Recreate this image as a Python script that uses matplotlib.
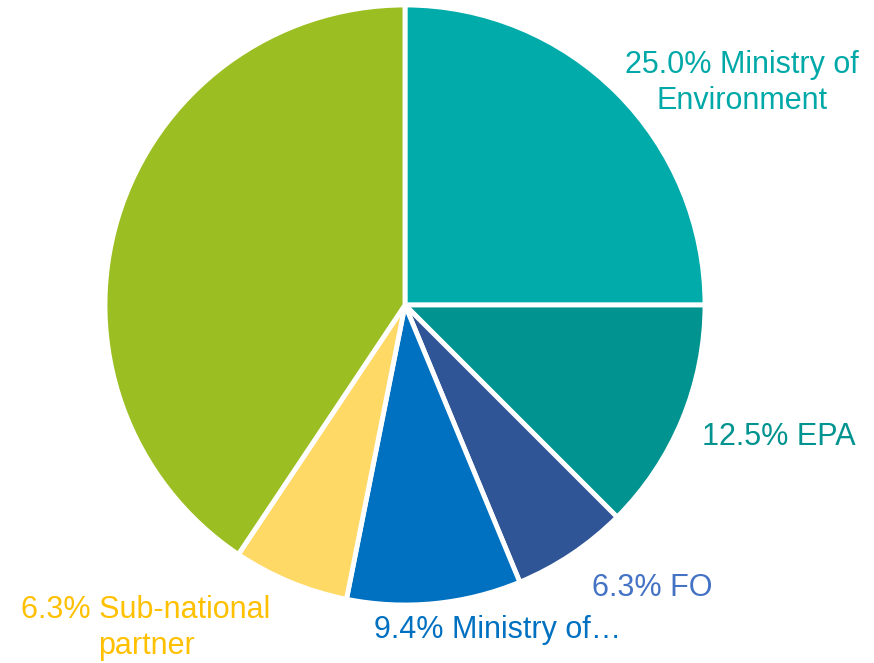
import matplotlib.pyplot as plt

# slice counts (out of 32), clockwise from 12 o'clock
labels = ["Ministry of\nEnvironment", "EPA", "FO", "Ministry of…", "Sub-national\npartner", "Other"]
values = [8, 4, 2, 3, 2, 13]
pcts = ["25.0%", "12.5%", "6.3%", "9.4%", "6.3%", ""]
colors = ["#00ABAA", "#00938F", "#2F5597", "#0070C0", "#FFD966", "#9BBF22"]
text_colors = ["#00A9A8", "#00938F", "#4472C4", "#0070C0", "#FFC000", None]

fig = plt.figure(figsize=(8.74, 6.63), dpi=100)
ax = fig.add_axes([0, 0, 1, 1])

# pie centre at (405, 305) px, radius 300 px
ax.pie(values, colors=colors, startangle=90, counterclock=False, radius=1,
       wedgeprops=dict(edgecolor="white", linewidth=3.5))
ax.set_xlim(-405 / 300, (874 - 405) / 300)
ax.set_ylim(-(663 - 305) / 300, 305 / 300)
ax.set_aspect("equal")
ax.axis("off")

def px(x, y):
    return (x - 405) / 300, (305 - y) / 300

# label positions in pixels (text centre)
label_pos = [(742, 83), (779, 437), (652, 588), (498, 630), (146, 628), None]

for lab, pct, tc, pos in zip(labels, pcts, text_colors, label_pos):
    if pos is None:
        continue
    x, y = px(*pos)
    ax.text(x, y, f"{pct} {lab}", color=tc, fontsize=22,
            family=["Liberation Sans", "DejaVu Sans"],
            ha="center", va="center", linespacing=1.25)

fig.savefig("out.png", dpi=100)
